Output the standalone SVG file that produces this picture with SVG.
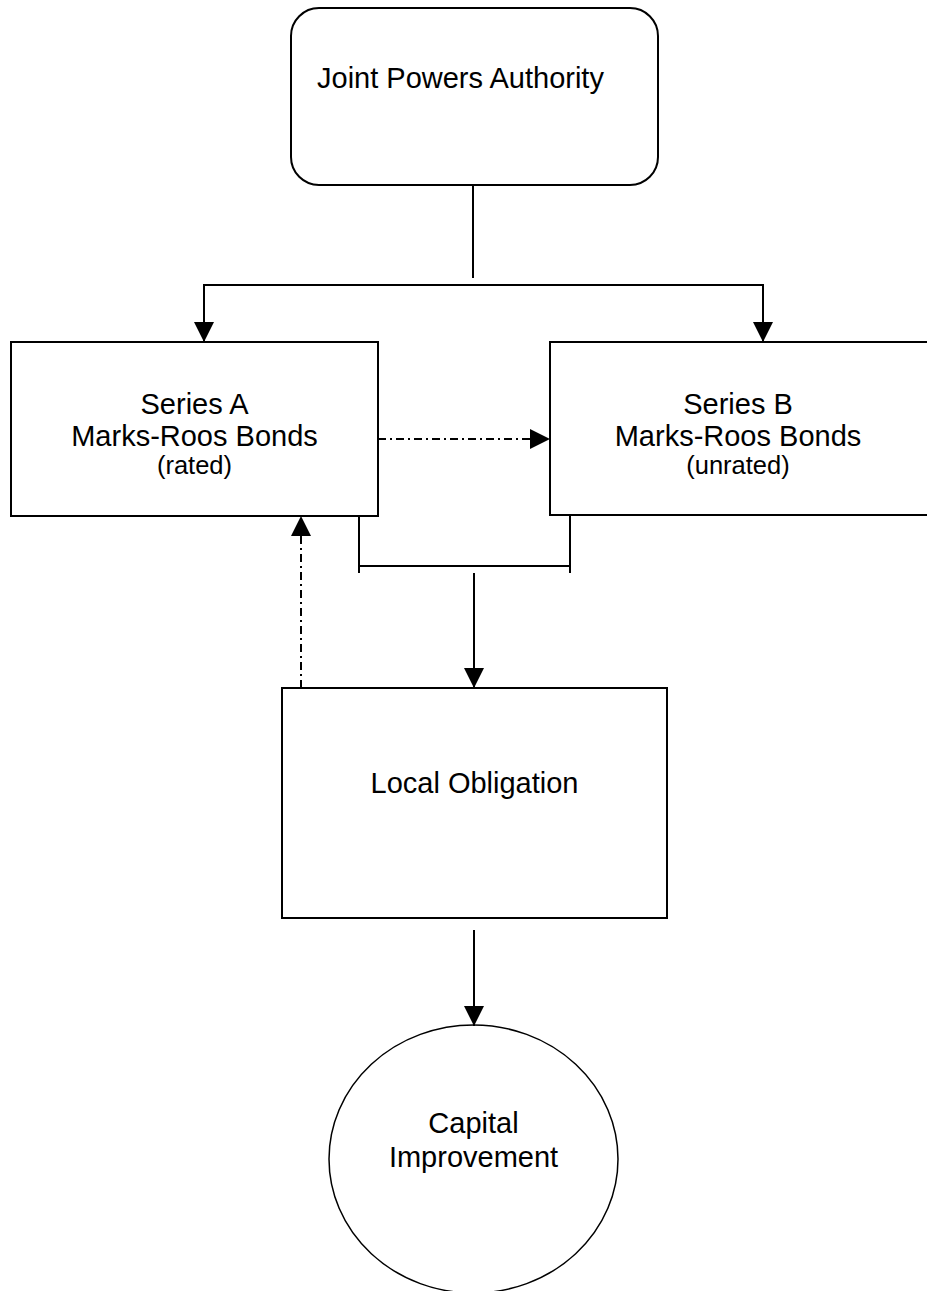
<svg xmlns="http://www.w3.org/2000/svg" width="927" height="1291" viewBox="0 0 927 1291">
<style>
.box{fill:#fff;stroke:#000;stroke-width:2}
.ln{fill:none;stroke:#000;stroke-width:2}
.dd{fill:none;stroke:#000;stroke-width:2;stroke-dasharray:8 4 2 4}
.t{font-family:"Liberation Sans",Arial,sans-serif;font-size:29px;fill:#000}
.s{font-family:"Liberation Sans",Arial,sans-serif;font-size:25.5px;fill:#000}
</style>
<defs>
<marker id="ah" viewBox="0 0 20 20" markerWidth="20" markerHeight="20" markerUnits="userSpaceOnUse" refX="20" refY="10" orient="auto">
<path d="M0,0 L20,10 L0,20 z" fill="#000"/>
</marker>
</defs>
<rect width="927" height="1291" fill="#fff"/>
<g id="jpa">
<rect class="box" x="291" y="8" width="367" height="177" rx="28" ry="28"/>
<text class="t" x="317" y="88">Joint Powers Authority</text>
</g>
<g id="seriesA">
<rect class="box" x="11" y="342" width="367" height="174"/>
<text class="t" x="194.5" y="414" text-anchor="middle">Series A</text>
<text class="t" x="194.5" y="446" text-anchor="middle">Marks-Roos Bonds</text>
<text class="s" x="194.5" y="474" text-anchor="middle">(rated)</text>
</g>
<g id="seriesB">
<rect class="box" x="550" y="342" width="378" height="173"/>
<text class="t" x="738" y="414" text-anchor="middle">Series B</text>
<text class="t" x="738" y="446" text-anchor="middle">Marks-Roos Bonds</text>
<text class="s" x="738" y="474" text-anchor="middle">(unrated)</text>
</g>
<g id="local">
<rect class="box" x="282" y="688" width="385" height="230"/>
<text class="t" x="474.5" y="793" text-anchor="middle">Local Obligation</text>
</g>
<g id="capital">
<ellipse class="box" cx="473.5" cy="1159" rx="144.5" ry="134" style="stroke-width:1.5"/>
<text class="t" x="473.5" y="1133" text-anchor="middle">Capital</text>
<text class="t" x="473.5" y="1167" text-anchor="middle">Improvement</text>
</g>
<g id="connectors">
<line class="ln" x1="473" y1="185" x2="473" y2="278"/>
<path class="ln" d="M204,342 V285 H763 V342" marker-end="url(#ah)"/>
<path class="ln" d="M204,285 V342" marker-end="url(#ah)"/>
<path class="dd" d="M378,439 H550" marker-end="url(#ah)"/>
<path class="dd" d="M301,688 V516" marker-end="url(#ah)"/>
<path class="ln" d="M359,515 V573 M359,566 H570 M570,515 V573"/>
<path class="ln" d="M474,573 V688" marker-end="url(#ah)"/>
<path class="ln" d="M474,930 V1026" marker-end="url(#ah)"/>
</g>
</svg>
